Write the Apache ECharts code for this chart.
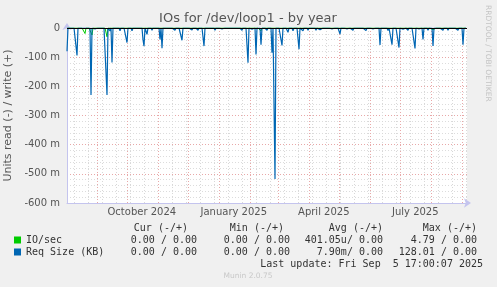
<!DOCTYPE html>
<html>
<head>
<meta charset="utf-8">
<script src="https://cdn.jsdelivr.net/npm/echarts@6/dist/echarts.min.js"></script>
<style>
html,body{margin:0;padding:0;background:#f0f0f0;}
#chart{width:497px;height:287px;}
</style>
</head>
<body>
<div id="chart"></div>
<script>
// ---- data (values in milli-units, read side drawn negative), one value per day from Aug 1 2024 ----
const startDate = '2024-08-01T17:00:00Z';
const endDate = '2025-09-05T17:00:00Z';

const reqSizeRead = [
  -80,0,0,-3,0,0,-6,0,0,0,-94,0,0,-5,0,0,0,0,-4,0,
  0,0,0,0,-230,0,0,0,-3,0,0,0,0,0,0,0,0,0,0,0,
  -230,0,0,-10,0,-118,0,0,0,0,0,0,0,-10,0,0,0,0,0,0,
  -50,0,0,0,0,-10,0,0,0,0,0,0,0,0,0,0,-40,-62,0,0,
  -22,0,0,0,0,-8,0,0,-4,0,0,0,0,-39,0,-69,0,0,0,0,
  0,-3,0,0,0,0,0,0,-8,0,0,0,0,0,0,-42,0,0,0,0,
  -3,0,0,0,0,-7,0,0,0,0,0,-8,0,-5,0,0,0,-62,0,0,
  0,0,-3,0,0,0,0,0,-8,0,0,0,0,0,0,-3,0,0,0,0,
  0,0,-3,0,0,0,0,0,-4,0,0,0,0,0,0,-8,0,0,0,0,
  0,-119,0,0,0,-4,0,0,0,-91,0,0,0,0,-57,0,0,0,0,0,
  -8,0,0,0,0,-85,0,0,-518,0,0,0,0,0,0,-60,0,0,0,0,
  0,-15,0,0,0,0,-10,0,0,0,0,0,-73,0,0,0,-10,0,0,0,
  0,-8,0,0,-6,0,0,0,0,-8,0,0,0,-6,0,0,0,0,-4,0,
  0,0,0,0,0,-3,0,0,0,0,0,0,0,-21,0,0,0,0,0,0,
  -3,0,0,0,0,0,-8,0,0,0,0,0,-3,0,0,0,0,0,0,-9,
  0,0,0,0,0,0,-3,0,0,0,0,0,0,-58,0,0,0,0,-4,0,
  0,-9,0,0,0,-57,0,0,0,0,0,0,-67,0,0,0,-4,0,0,0,
  0,-8,0,0,0,0,0,0,-70,0,0,0,-3,0,0,0,-39,0,0,0,
  0,-8,0,0,0,0,-62,0,0,0,0,0,-6,0,0,0,-8,0,0,0,
  0,-8,0,0,0,0,-3,0,0,0,0,-8,0,0,0,0,-57,0,0,0
];

const ioRead = [
  0,0,0,0,0,0,0,0,0,0,0,0,0,0,0,0,0,0,-19,0,
  0,0,0,0,0,-24,0,0,0,0,0,0,0,0,0,0,0,0,0,0,
  -30,0,0,0,0,0,0,0,0,0,0,0,0,0,0,0,0,0,0,0,
  0,0,0,0,0,0,0,0,0,0,0,0,0,0,0,0,0,0,0,0,
  0,0,0,0,0,0,0,0,0,0,0,0,0,-6,0,0,0,0,0,0,
  0,0,0,0,0,0,0,0,0,0,0,0,0,0,0,0,0,0,0,0,
  0,0,0,0,0,0,0,0,0,0,0,0,0,0,0,0,0,0,0,0,
  0,0,0,0,0,0,0,0,0,0,0,0,0,0,0,0,0,0,0,0,
  0,0,0,0,0,0,0,0,0,0,0,0,0,0,0,0,0,0,0,0,
  0,0,0,0,0,0,0,0,0,0,0,0,0,0,-10,0,0,0,0,0,
  0,0,0,0,0,-4,0,0,0,0,0,0,0,0,0,0,0,0,0,0,
  0,0,0,0,0,0,0,0,0,0,0,0,0,0,0,0,0,0,0,0,
  0,0,0,0,0,0,0,0,0,0,0,0,0,0,0,0,0,0,0,0,
  0,0,0,0,0,0,0,0,0,0,0,0,0,0,0,0,0,0,0,0,
  0,0,0,0,0,0,0,0,0,0,0,0,0,0,0,0,0,0,0,0,
  0,0,0,0,0,0,0,0,0,0,0,0,0,0,0,0,0,0,0,0,
  0,0,0,0,0,-6,0,0,0,0,0,0,-5,0,0,0,0,0,0,0,
  0,0,0,0,0,0,0,0,0,0,0,0,0,0,0,0,0,0,0,0,
  0,0,0,0,0,0,-6,0,0,0,0,0,0,0,0,0,0,0,0,0,
  0,0,0,0,0,0,0,0,0,0,0,0,0,0,0,0,0,0,0,0
];

const seriesNames = ['IO/sec', 'Req Size (KB)'];
const seriesColors = ['#00cc00', '#0066b3'];

const xTickDates = ['2024-10-15T12:00:00Z', '2025-01-15T12:00:00Z', '2025-04-15T12:00:00Z', '2025-07-16T00:00:00Z'];
const xTickLabels = ['October 2024', 'January 2025', 'April 2025', 'July 2025'];
const monthStarts = ['2024-09-01','2024-10-01','2024-11-01','2024-12-01','2025-01-01','2025-02-01','2025-03-01',
                     '2025-04-01','2025-05-01','2025-06-01','2025-07-01','2025-08-01','2025-09-01'];
const minorGridStart = '2024-08-09T00:00:00Z';

const yTicks = [0, -100, -200, -300, -400, -500, -600];

const statHeader = ['Cur (-/+)', 'Min (-/+)', 'Avg (-/+)', 'Max (-/+)'];
const statIO = ['0.00 / 0.00', '0.00 / 0.00', '401.05u/ 0.00', '4.79 / 0.00'];
const statReq = ['0.00 / 0.00', '0.00 / 0.00', '7.90m/ 0.00', '128.01 / 0.00'];
const lastUpdate = 'Last update: Fri Sep  5 17:00:07 2025';

// ---- build ----
const DAY = 86400000;
const t0 = Date.parse(startDate);
const t1 = Date.parse(endDate);
const toPairs = arr => arr.map((v, i) => [t0 + i * DAY, v]);
const labelVals = xTickDates.map(d => Date.parse(d));
const monthVals = monthStarts.map(d => Date.parse(d + 'T00:00:00Z'));
const minorVals = [];
for (let t = Date.parse(minorGridStart); t < t1; t += 14 * DAY) minorVals.push(t);

const chart = echarts.init(document.getElementById('chart'), null, {renderer: 'canvas'});
const FONT = '"DejaVu Sans", sans-serif';
const MONO = '"DejaVu Sans Mono", monospace';
const axisCol = '#c4c4ee';

const statCols = [188, 284, 383, 477];
const g = [];
statHeader.forEach((s, i) => g.push({type:'text', x: statCols[i], y: 228, style:{text:s, font:'10px ' + MONO, fill:'#333', textAlign:'right', textVerticalAlign:'middle'}}));
statIO.forEach((s, i) => g.push({type:'text', x: [197,290,383,477][i], y: 240, style:{text:s, font:'10px ' + MONO, fill:'#333', textAlign:'right', textVerticalAlign:'middle'}}));
statReq.forEach((s, i) => g.push({type:'text', x: [197,290,383,477][i], y: 252, style:{text:s, font:'10px ' + MONO, fill:'#333', textAlign:'right', textVerticalAlign:'middle'}}));
g.push({type:'text', x: 483, y: 264, style:{text:lastUpdate, font:'10px ' + MONO, fill:'#333', textAlign:'right', textVerticalAlign:'middle'}});
g.push({type:'text', x: 248, y: 276, style:{text:'Munin 2.0.75', font:'7.5px ' + FONT, fill:'#c8c8c8', textAlign:'center', textVerticalAlign:'middle'}});
g.push({type:'text', x: 488, y: 5, rotation: -Math.PI / 2, style:{text:'RRDTOOL / TOBI OETIKER', font:'7.5px ' + FONT, fill:'#c4c4c4', textAlign:'left', textVerticalAlign:'middle'}});
g.push({type:'text', x: 248, y: 19, style:{text:'IOs for /dev/loop1 - by year', font:'13px ' + FONT, fill:'#555', textAlign:'center', textVerticalAlign:'middle'}});

const baseX = {type:'value', min:t0, max:t1, axisLine:{show:false}, axisTick:{show:false}, axisLabel:{show:false}};

chart.setOption({
  backgroundColor: '#f0f0f0',
  animation: false,
  grid: {left: 67, right: 30, top: 28, bottom: 84, show: true, backgroundColor: '#ffffff', borderWidth: 0,
         containLabel: false, outerBoundsMode: 'none'},
  legend: {
    orient: 'vertical', left: 14, top: 234, padding: 0, itemGap: 0, itemWidth: 7, itemHeight: 7, icon: 'rect',
    data: seriesNames,
    textStyle: {fontFamily: MONO, fontSize: 10, lineHeight: 12, color: '#333'},
    selectedMode: false
  },
  graphic: g,
  xAxis: [
    {type:'value', min:t0, max:t1,
     axisLine:{show:true, onZero:false, lineStyle:{color:axisCol}, symbol:['none','arrow'], symbolSize:[7,7], symbolOffset:[0,4]},
     axisTick:{show:false, customValues: labelVals},
     axisLabel:{show:true, customValues: labelVals, margin: 4, fontFamily: FONT, fontSize: 10, color: '#555',
       formatter: v => { const i = labelVals.indexOf(v); return i >= 0 ? xTickLabels[i] : ''; }},
     splitLine:{show:false}},
    Object.assign({}, baseX, {axisTick:{show:false, customValues: minorVals}, splitLine:{show:true, lineStyle:{color:'#d8d8d8', type:[1,2]}}}),
    Object.assign({}, baseX, {axisTick:{show:false, customValues: monthVals}, splitLine:{show:true, lineStyle:{color:'#e8a8a8', type:[1,2]}}})
  ],
  yAxis: {
    type: 'value', min: -600, max: 0, interval: 100,
    axisLine: {show: true, lineStyle: {color: axisCol}, symbol: ['none','arrow'], symbolSize: [7,7], symbolOffset: [0,5]},
    axisTick: {show: false},
    axisLabel: {customValues: yTicks, margin: 7, fontFamily: FONT, fontSize: 10, color: '#555', formatter: v => v === 0 ? '0' : v + ' m'},
    splitLine: {show: true, lineStyle: {color: '#e8a8a8', type: [1,2]}},
    minorTick: {show: false, splitNumber: 5},
    minorSplitLine: {show: true, lineStyle: {color: '#dcdcdc', type: [1,2]}},
    name: 'Units read (-) / write (+)', nameLocation: 'middle', nameGap: 46,
    nameTextStyle: {fontFamily: FONT, fontSize: 11, color: '#555'}
  },
  series: [
    {name: seriesNames[0], type: 'line', xAxisIndex: 0, data: toPairs(ioRead), showSymbol: false,
     lineStyle: {width: 1, color: seriesColors[0]}, itemStyle: {color: seriesColors[0]}, z: 3},
    {name: seriesNames[1], type: 'line', xAxisIndex: 0, data: toPairs(reqSizeRead), showSymbol: false,
     lineStyle: {width: 1.2, color: seriesColors[1]}, itemStyle: {color: seriesColors[1]}, z: 4,
     markLine: {silent: true, symbol: ['none','none'], label: {show: false},
       lineStyle: {color: '#000', width: 1, type: 'solid'}, data: [{yAxis: 0}]}}
  ]
});
</script>
</body>
</html>
